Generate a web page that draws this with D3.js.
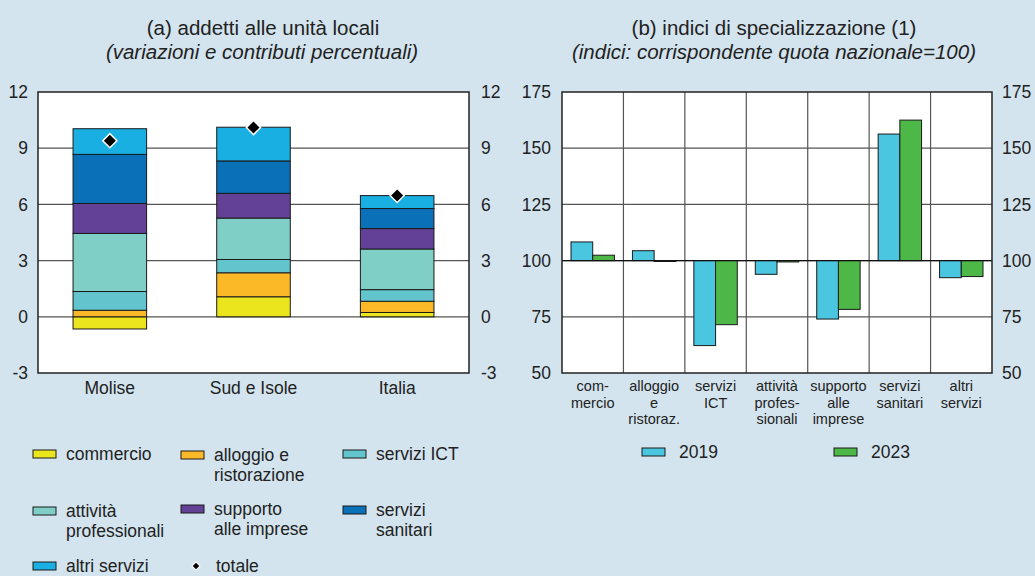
<!DOCTYPE html>
<html>
<head>
<meta charset="utf-8">
<script src="https://cdn.jsdelivr.net/npm/d3@7"></script>
<style>
  html, body { margin: 0; padding: 0; background: #d3e4ee; }
  svg { display: block; font-family: "Liberation Sans", Arial, sans-serif; }
</style>
</head>
<body>
<div id="chart"></div>
<script>
// panel (a) data: contributions to employment change
const regions = ["Molise", "Sud e Isole", "Italia"];
const sectorKeys = ["commercio", "alloggio", "ict", "prof", "supporto", "sanitari", "altri"];
const sectorNames = ["commercio", "alloggio e\nristorazione", "servizi ICT", "attività\nprofessionali",
                     "supporto\nalle imprese", "servizi\nsanitari", "altri servizi"];
const commercio = [-0.65, 1.07, 0.23];
const alloggio  = [0.35, 1.28, 0.60];
const ict       = [1.00, 0.71, 0.62];
const prof      = [3.10, 2.21, 2.17];
const supporto  = [1.60, 1.32, 1.09];
const sanitari  = [2.62, 1.73, 1.07];
const altri     = [1.37, 1.80, 0.69];
const totale    = [9.40, 10.10, 6.48];
const leftTicks = [-3, 0, 3, 6, 9, 12];

// panel (b) data: specialization indices
const specCategories = ["com-\nmercio", "alloggio\ne\nristoraz.", "servizi\nICT", "attività\nprofes-\nsionali",
                        "supporto\nalle\nimprese", "servizi\nsanitari", "altri\nservizi"];
const years = ["2019", "2023"];
const idx2019 = [108.3, 104.4, 62.2, 93.9, 74.0, 156.3, 92.4];
const idx2023 = [102.4, 99.6, 71.5, 99.4, 78.3, 162.5, 92.9];
const rightTicks = [50, 75, 100, 125, 150, 175];

const sectorColors = ["#ebe51e", "#fbb928", "#62c4cc", "#80cfc7", "#634196", "#0a70b8", "#1aafe3"];
const yearColors = {"2019": "#4ac6e0", "2023": "#4db848"};
const textColor = "#222";
const gridColor = "#555";

const W = 1035, H = 576;
const svg = d3.select("#chart").append("svg").attr("width", W).attr("height", H);
svg.append("rect").attr("width", W).attr("height", H).attr("fill", "#d3e4ee");

const top_y = 92, bottom_y = 373;

// ---------- panel (a) ----------
const a = {left: 38, right: 469};
const series = {commercio, alloggio, ict, prof, supporto, sanitari, altri};
const rows = regions.map(function(r, i) {
    var o = {region: r};
    sectorKeys.forEach(function(k) { o[k] = series[k][i]; });
    return o;
});
const stacked = d3.stack().keys(sectorKeys).offset(d3.stackOffsetDiverging)(rows);

const ax = d3.scaleBand().domain(regions).range([a.left, a.right]).paddingInner(0.488).paddingOuter(0.244);
const ay = d3.scaleLinear().domain([-3, 12]).range([bottom_y, top_y]);

svg.append("rect").attr("x", a.left).attr("y", top_y).attr("width", a.right - a.left)
    .attr("height", bottom_y - top_y).attr("fill", "#fff");

svg.append("g").selectAll("line").data([0, 3, 6, 9]).enter().append("line")
    .attr("x1", a.left).attr("x2", a.right)
    .attr("y1", function(d) { return ay(d); }).attr("y2", function(d) { return ay(d); })
    .attr("stroke", gridColor).attr("stroke-width", 1.2);

svg.append("g").selectAll("g").data(stacked).enter().append("g")
    .attr("fill", function(d, i) { return sectorColors[i]; })
    .selectAll("rect").data(function(d) { return d; }).enter().append("rect")
    .attr("x", function(d) { return ax(d.data.region); })
    .attr("width", ax.bandwidth())
    .attr("y", function(d) { return ay(Math.max(d[0], d[1])); })
    .attr("height", function(d) { return Math.abs(ay(d[0]) - ay(d[1])); })
    .attr("stroke", "#1a1a1a").attr("stroke-width", 1);

svg.append("g").selectAll("path").data(totale).enter().append("path")
    .attr("d", d3.symbol().type(d3.symbolSquare).size(100))
    .attr("transform", function(d, i) {
        return "translate(" + (ax(regions[i]) + ax.bandwidth() / 2) + "," + ay(d) + ") rotate(45)";
    })
    .attr("fill", "#000").attr("stroke", "#fff").attr("stroke-width", 1.5);

svg.append("rect").attr("x", a.left).attr("y", top_y).attr("width", a.right - a.left)
    .attr("height", bottom_y - top_y).attr("fill", "none").attr("stroke", "#222").attr("stroke-width", 1.5);

svg.append("g").selectAll("text").data(leftTicks).enter().append("text")
    .attr("x", 28).attr("y", function(d) { return ay(d); }).attr("dy", "0.35em")
    .attr("text-anchor", "end").attr("font-size", 17.5).attr("fill", textColor)
    .text(function(d) { return d; });
svg.append("g").selectAll("text").data(leftTicks).enter().append("text")
    .attr("x", 481).attr("y", function(d) { return ay(d); }).attr("dy", "0.35em")
    .attr("text-anchor", "start").attr("font-size", 17.5).attr("fill", textColor)
    .text(function(d) { return d; });

svg.append("g").selectAll("text").data(regions).enter().append("text")
    .attr("x", function(d) { return ax(d) + ax.bandwidth() / 2; }).attr("y", 388).attr("dy", "0.35em")
    .attr("text-anchor", "middle").attr("font-size", 17.5).attr("fill", textColor)
    .text(function(d) { return d; });

svg.append("text").attr("x", 263).attr("y", 35).attr("text-anchor", "middle")
    .attr("font-size", 20.5).attr("fill", textColor).text("(a) addetti alle unità locali");
svg.append("text").attr("x", 262).attr("y", 59).attr("text-anchor", "middle")
    .attr("font-size", 20.5).attr("font-style", "italic").attr("fill", textColor)
    .text("(variazioni e contributi percentuali)");

// ---------- panel (b) ----------
const b = {left: 562, right: 992};
const bx = d3.scaleBand().domain(specCategories).range([b.left, b.right]).padding(0);
const bx1 = d3.scaleBand().domain(years).range([0, bx.bandwidth()]).paddingInner(0).paddingOuter(0.415);
const by = d3.scaleLinear().domain([50, 175]).range([bottom_y, top_y]);
const yearValues = {"2019": idx2019, "2023": idx2023};

svg.append("rect").attr("x", b.left).attr("y", top_y).attr("width", b.right - b.left)
    .attr("height", bottom_y - top_y).attr("fill", "#fff");

svg.append("g").selectAll("line").data([75, 100, 125, 150]).enter().append("line")
    .attr("x1", b.left).attr("x2", b.right)
    .attr("y1", function(d) { return by(d); }).attr("y2", function(d) { return by(d); })
    .attr("stroke", gridColor).attr("stroke-width", 1.2);
svg.append("g").selectAll("line").data(specCategories.slice(1)).enter().append("line")
    .attr("x1", function(d) { return bx(d); }).attr("x2", function(d) { return bx(d); })
    .attr("y1", top_y).attr("y2", bottom_y)
    .attr("stroke", gridColor).attr("stroke-width", 1.2);

const barData = [];
specCategories.forEach(function(c, i) {
    years.forEach(function(y) { barData.push({cat: c, year: y, value: yearValues[y][i]}); });
});
svg.append("g").selectAll("rect").data(barData).enter().append("rect")
    .attr("x", function(d) { return bx(d.cat) + bx1(d.year); })
    .attr("width", bx1.bandwidth())
    .attr("y", function(d) { return by(Math.max(d.value, 100)); })
    .attr("height", function(d) { return Math.abs(by(d.value) - by(100)); })
    .attr("fill", function(d) { return yearColors[d.year]; })
    .attr("stroke", "#1a1a1a").attr("stroke-width", 1);

svg.append("line").attr("x1", b.left).attr("x2", b.right).attr("y1", by(100)).attr("y2", by(100))
    .attr("stroke", "#111").attr("stroke-width", 1.2);

svg.append("rect").attr("x", b.left).attr("y", top_y).attr("width", b.right - b.left)
    .attr("height", bottom_y - top_y).attr("fill", "none").attr("stroke", "#222").attr("stroke-width", 1.5);

svg.append("g").selectAll("text").data(rightTicks).enter().append("text")
    .attr("x", 551).attr("y", function(d) { return by(d); }).attr("dy", "0.35em")
    .attr("text-anchor", "end").attr("font-size", 17.5).attr("fill", textColor)
    .text(function(d) { return d; });
svg.append("g").selectAll("text").data(rightTicks).enter().append("text")
    .attr("x", 1002).attr("y", function(d) { return by(d); }).attr("dy", "0.35em")
    .attr("text-anchor", "start").attr("font-size", 17.5).attr("fill", textColor)
    .text(function(d) { return d; });

var catLabels = svg.append("g").selectAll("text").data(specCategories).enter().append("text")
    .attr("x", function(d) { return bx(d) + bx.bandwidth() / 2; }).attr("y", 386)
    .attr("text-anchor", "middle").attr("font-size", 14.5).attr("fill", textColor);
catLabels.selectAll("tspan").data(function(d) { return d.split("\n"); }).enter().append("tspan")
    .attr("x", function() { return d3.select(this.parentNode).attr("x"); })
    .attr("y", function(d, i) { return 386 + i * 16.5; }).attr("dy", "0.35em")
    .text(function(d) { return d; });

svg.append("text").attr("x", 774).attr("y", 35).attr("text-anchor", "middle")
    .attr("font-size", 20.5).attr("fill", textColor).text("(b) indici di specializzazione (1)");
svg.append("text").attr("x", 774).attr("y", 59).attr("text-anchor", "middle")
    .attr("font-size", 20.5).attr("font-style", "italic").attr("fill", textColor)
    .text("(indici: corrispondente quota nazionale=100)");

// ---------- legends ----------
const legPos = [[33, 454], [181, 455], [343, 454], [33, 511], [181, 509], [343, 510], [33, 566]];
var leg = svg.append("g").selectAll("g").data(sectorNames).enter().append("g")
    .attr("transform", function(d, i) { return "translate(" + legPos[i][0] + "," + legPos[i][1] + ")"; });
leg.append("rect").attr("x", 0).attr("y", -4).attr("width", 23).attr("height", 8)
    .attr("fill", function(d, i) { return sectorColors[i]; }).attr("stroke", "#1a1a1a").attr("stroke-width", 1);
leg.append("text").attr("font-size", 17.5).attr("fill", textColor)
    .selectAll("tspan").data(function(d) { return d.split("\n"); }).enter().append("tspan")
    .attr("x", 33).attr("y", function(d, i) { return i * 20; }).attr("dy", "0.35em")
    .text(function(d) { return d; });

var legTot = svg.append("g").attr("transform", "translate(196,566)");
legTot.append("path").attr("d", d3.symbol().type(d3.symbolSquare).size(32)).attr("transform", "rotate(45)")
    .attr("fill", "#000").attr("stroke", "#fff").attr("stroke-width", 1);
legTot.append("text").attr("x", 20).attr("dy", "0.35em").attr("font-size", 17.5).attr("fill", textColor).text("totale");

const yearLegX = [642, 834];
var yleg = svg.append("g").selectAll("g").data(years).enter().append("g")
    .attr("transform", function(d, i) { return "translate(" + yearLegX[i] + ",452)"; });
yleg.append("rect").attr("x", 0).attr("y", -4).attr("width", 23).attr("height", 8)
    .attr("fill", function(d) { return yearColors[d]; }).attr("stroke", "#1a1a1a").attr("stroke-width", 1);
yleg.append("text").attr("x", 37).attr("dy", "0.35em").attr("font-size", 17.5).attr("fill", textColor)
    .text(function(d) { return d; });
</script>
</body>
</html>
